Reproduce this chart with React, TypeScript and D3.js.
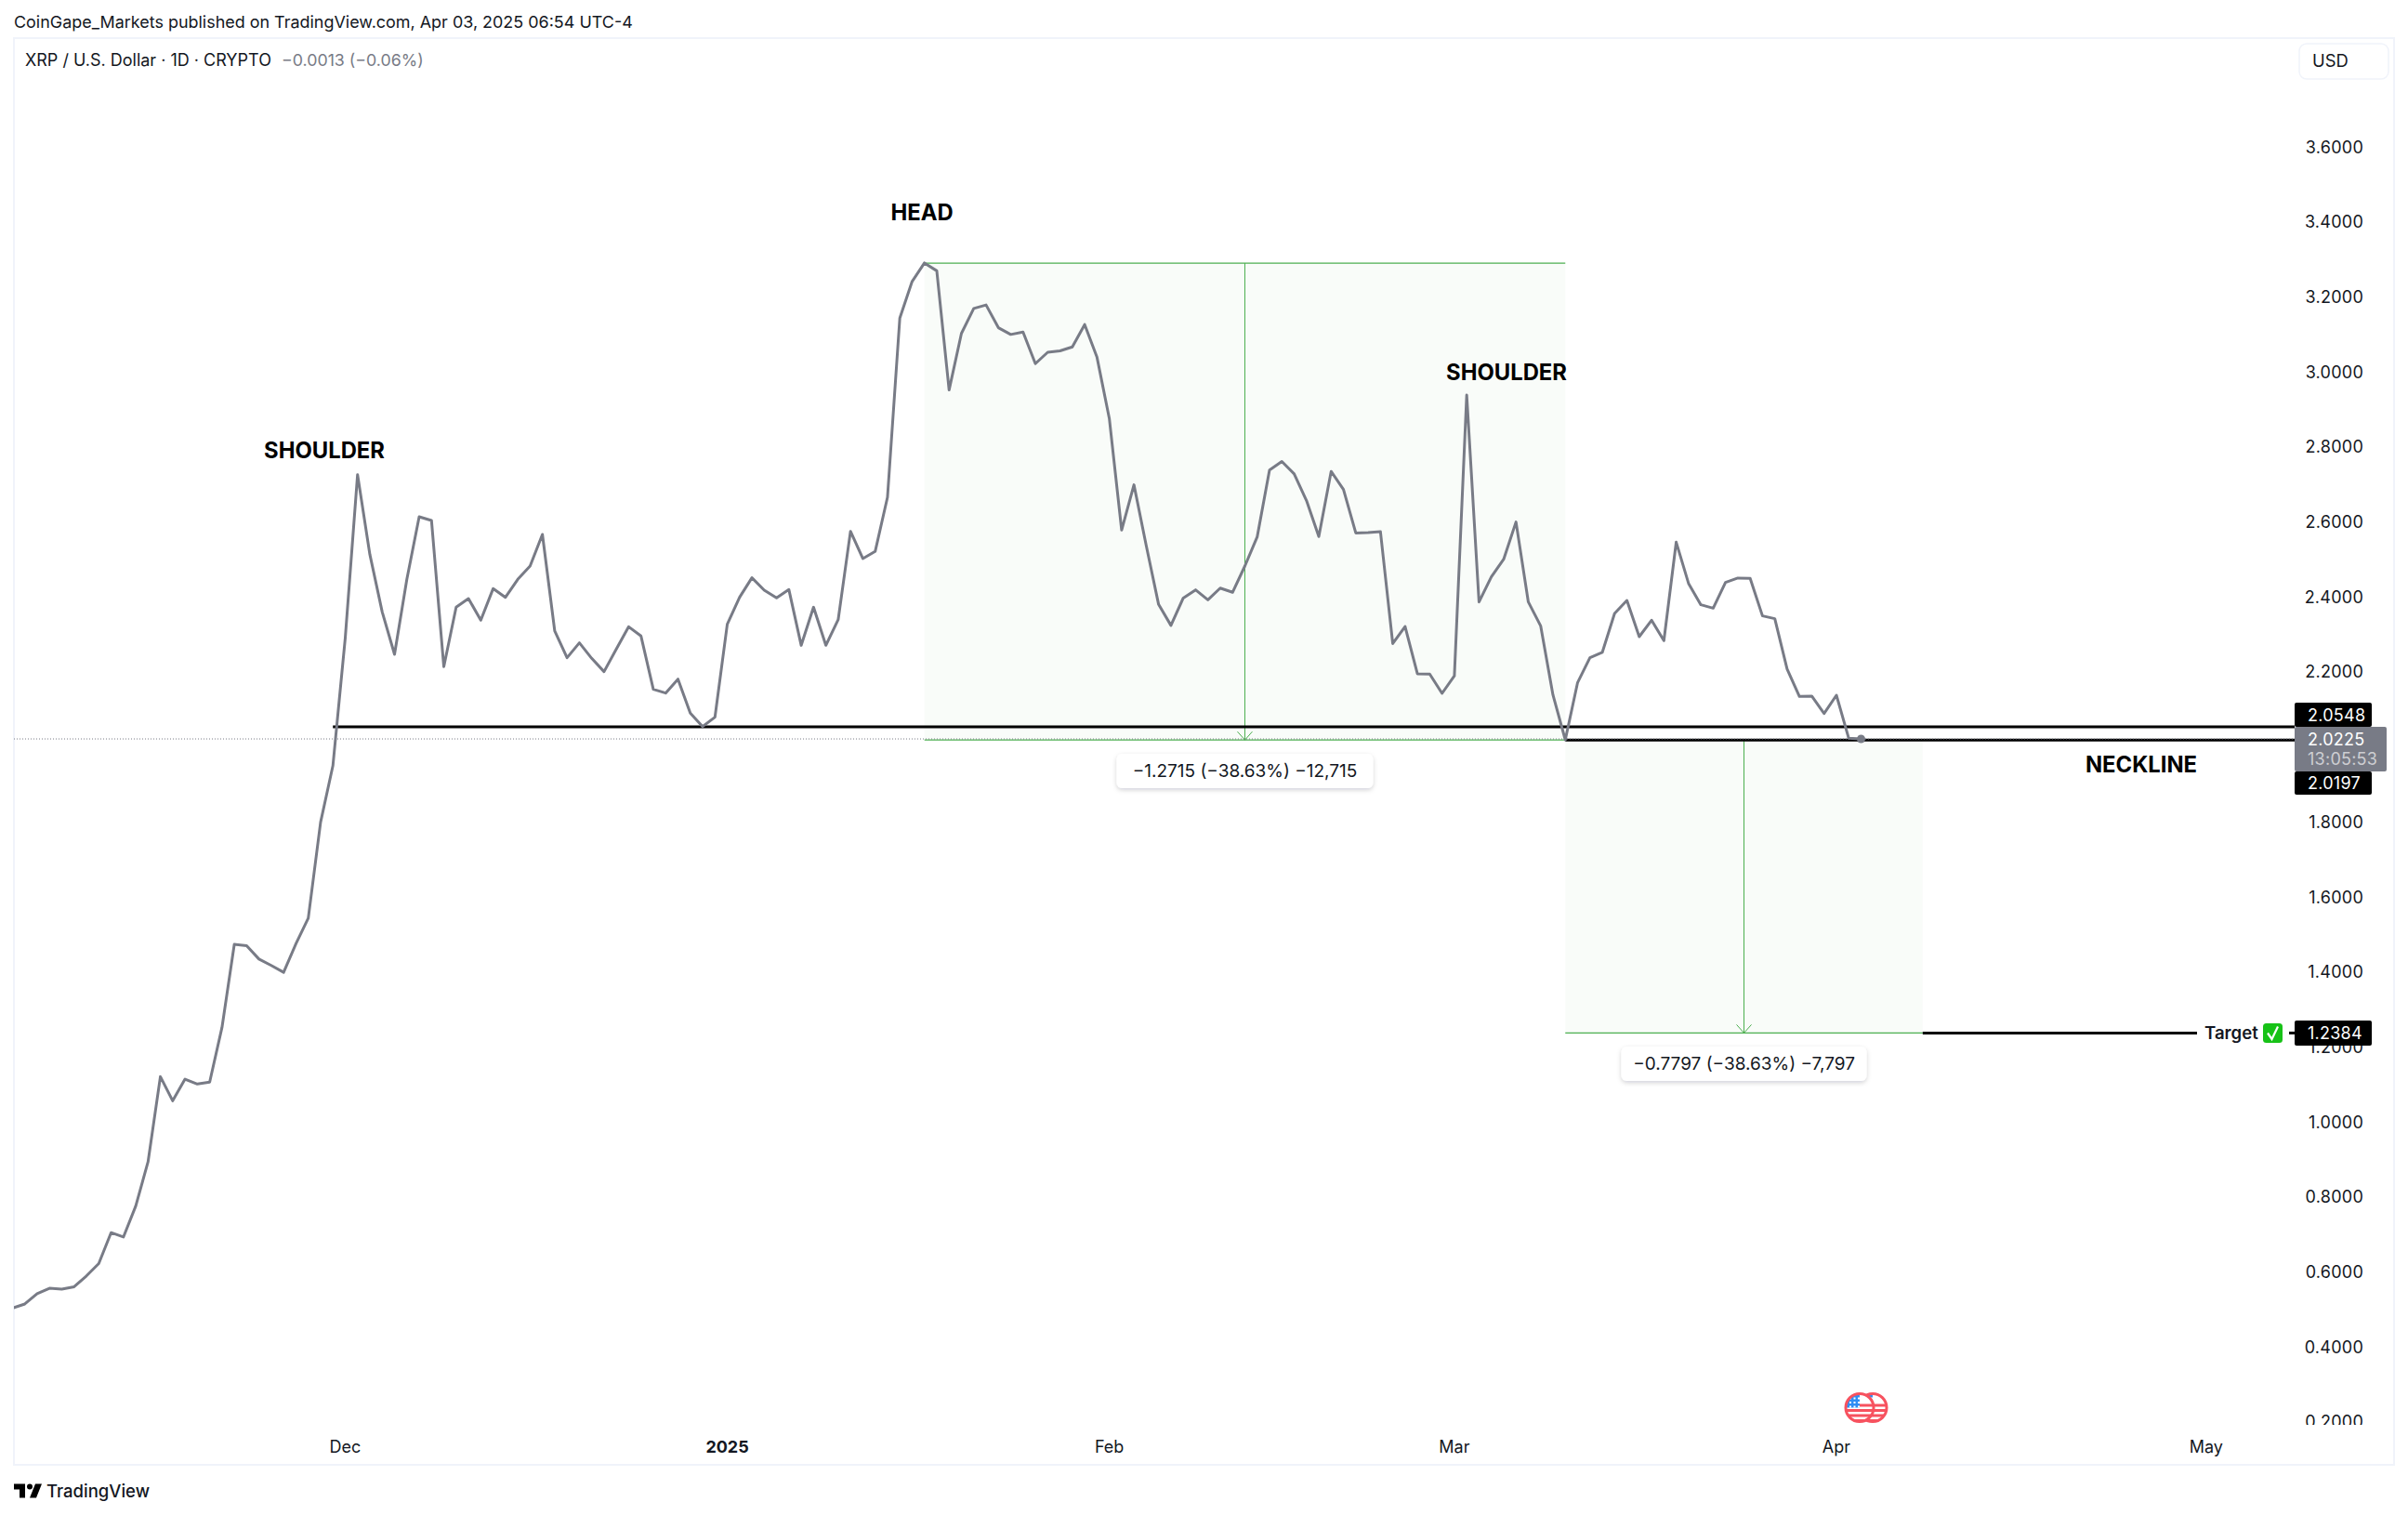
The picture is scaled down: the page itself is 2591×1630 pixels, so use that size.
import React from "react";
import * as d3 from "d3";

const W = 2591;
const H = 1630;
const FONT = "Inter, 'Noto Sans', sans-serif";
const INK = "#131722";
const GREY = "#787b86";
const GREEN = "#4caf50";
const BORDER = "#f0f3fa";

// Daily closes, Nov 4 2024 to Apr 3 2025
const firstDay = Date.UTC(2024, 10, 4);
const closes = [
  0.5047, 0.5158, 0.5434, 0.5578, 0.5552, 0.5618, 0.5906, 0.6234, 0.7061, 0.6943, 0.7769, 0.895,
  1.122, 1.0577, 1.1154, 1.1023, 1.1075, 1.2532, 1.4749, 1.471, 1.4355, 1.4185, 1.4001, 1.4762,
  1.5445, 1.8003, 1.9512, 2.2911, 2.7272, 2.5141, 2.3613, 2.2481, 2.448, 2.6149, 2.605, 2.2151,
  2.3737, 2.3968, 2.339, 2.4232, 2.4001, 2.448, 2.4835, 2.5678, 2.3101, 2.239, 2.2787, 2.2374,
  2.2019, 2.2622, 2.3216, 2.2969, 2.1548, 2.1449, 2.182, 2.0912, 2.0556, 2.0804, 2.3282, 2.4001,
  2.4522, 2.4191, 2.3985, 2.4208, 2.2721, 2.3737, 2.2721, 2.3406, 2.5761, 2.5034, 2.5224, 2.6669,
  3.1446, 3.2423, 3.2916, 3.2707, 2.953, 3.1038, 3.1702, 3.1797, 3.119, 3.101, 3.1076, 3.0232,
  3.0535, 3.0573, 3.0678, 3.1275, 3.0403, 2.8771, 2.5793, 2.7, 2.5376, 2.3811, 2.3252, 2.3982,
  2.42, 2.3935, 2.4247, 2.4134, 2.4835, 2.5613, 2.7396, 2.7624, 2.7292, 2.6581, 2.5623, 2.7358,
  2.6875, 2.5718, 2.5727, 2.5755, 2.2768, 2.3223, 2.1962, 2.1953, 2.144, 2.1905, 2.9396, 2.3877,
  2.4547, 2.5017, 2.6009, 2.3877, 2.3241, 2.1399, 2.0201, 2.173, 2.239, 2.2531, 2.3572, 2.3919,
  2.2952, 2.339, 2.2845, 2.5472, 2.4373, 2.3803, 2.3712, 2.4398, 2.4514, 2.4505, 2.3506, 2.3431,
  2.2085, 2.1358, 2.1366, 2.0903, 2.1391, 2.0243, 2.0225,
];

const priceTicks = [3.6, 3.4, 3.2, 3.0, 2.8, 2.6, 2.4, 2.2, 1.8, 1.6, 1.4, 1.2, 1.0, 0.8, 0.6, 0.4, 0.2];
const timeTicks = [
  { label: "Dec", date: Date.UTC(2024, 11, 1), bold: false },
  { label: "2025", date: Date.UTC(2025, 0, 1), bold: true },
  { label: "Feb", date: Date.UTC(2025, 1, 1), bold: false },
  { label: "Mar", date: Date.UTC(2025, 2, 1), bold: false },
  { label: "Apr", date: Date.UTC(2025, 3, 1), bold: false },
  { label: "May", date: Date.UTC(2025, 4, 1), bold: false },
];

const necklineUpper = 2.0548;
const necklineLower = 2.0197;
const lastPrice = 2.0225;
const targetPrice = 1.2384;
const headPrice = 3.2912;
const headDate = Date.UTC(2025, 0, 17);
const breakDate = Date.UTC(2025, 2, 10);
const targetEndDate = Date.UTC(2025, 3, 8);
const necklineStart = Date.UTC(2024, 10, 30);

const x = d3.scaleUtc().domain([Date.UTC(2024, 10, 5), Date.UTC(2025, 3, 3)]).range([26.7, 2002.5]);
const y = d3.scaleLinear().domain([3.6, 0.2]).range([158.5, 1530.4]);
const DAY = 86400000;
const series = closes.map((v, i) => ({ d: firstDay + i * DAY, v }));
const linePath = d3.line<{ d: number; v: number }>().x((p) => x(p.d)).y((p) => y(p.v))(series) as string;

const PANE = { l: 15, t: 41, r: 2576, b: 1576 };
const SCALE_X = 2469;

function Tag({ value, top, bottom }: { value: number; top: number; bottom: number }) {
  return (
    <g>
      <rect x={SCALE_X} y={top} width={83} height={bottom - top} rx={2} fill="#000" />
      <text x={2483} y={(top + bottom) / 2} fontSize={18} letterSpacing={0.25} fill="#fff" dominantBaseline="central">
        {value.toFixed(4)}
      </text>
    </g>
  );
}

function Measure({ x0, x1, hi, lo }: { x0: number; x1: number; hi: number; lo: number }) {
  const cx = (x0 + x1) / 2;
  return (
    <g>
      <rect x={x0} y={y(hi)} width={x1 - x0} height={y(lo) - y(hi)} fill="#4caf50" fillOpacity={0.035} />
      <line x1={x0} x2={x1} y1={y(hi)} y2={y(hi)} stroke={GREEN} strokeWidth={1.1} />
      <line x1={x0} x2={x1} y1={y(lo)} y2={y(lo)} stroke={GREEN} strokeWidth={1.1} />
      <line x1={cx} x2={cx} y1={y(hi)} y2={y(lo)} stroke={GREEN} strokeWidth={1} />
      <path
        d={`M${cx - 8},${y(lo) - 9}L${cx},${y(lo)}L${cx + 8},${y(lo) - 9}`}
        fill="none"
        stroke={GREEN}
        strokeWidth={1}
      />
    </g>
  );
}

function Tip({ cx, top, text }: { cx: number; top: number; text: string }) {
  const w = text.length > 24 ? 276 : 264;
  return (
    <g>
      <rect x={cx - w / 2} y={top} width={w} height={37} rx={6} fill="#fff" filter="url(#tipShadow)" />
      <text x={cx} y={top + 18} textAnchor="middle" dominantBaseline="central" fontSize={19} fill={INK}>
        {text}
      </text>
    </g>
  );
}

function FlagCoin({ cx, id }: { cx: number; id: string }) {
  const cy = 1514.5;
  const r = 15;
  return (
    <g>
      <clipPath id={id}>
        <circle cx={cx} cy={cy} r={r} />
      </clipPath>
      <circle cx={cx} cy={cy} r={r} fill="#fff" />
      <g clipPath={`url(#${id})`}>
        {[-4, 1.5, 7, 12.5].map((o) => (
          <rect key={o} x={cx - r} y={cy + o} width={2 * r} height={3} fill="#f7525f" />
        ))}
        <rect x={cx - r} y={cy - r} width={r} height={r} fill="#2f8ef4" />
        {[-11, -6.5, -2].map((dy) =>
          [-11, -6.5, -2].map((dx) => <rect key={`${dx}${dy}`} x={cx + dx} y={cy + dy} width={2} height={2} fill="#fff" />),
        )}
      </g>
      <circle cx={cx} cy={cy} r={r} fill="none" stroke="#f7525f" strokeWidth={3} />
    </g>
  );
}

export default function App() {
  const yNeckU = y(necklineUpper);
  const yNeckL = y(necklineLower);
  const yLast = y(lastPrice);
  const yTarget = y(targetPrice);
  const xHead = x(headDate);
  const xBreak = x(breakDate);
  const xEnd = x(targetEndDate);
  const lastX = x(series[series.length - 1].d);
  return (
    <svg
      width={W}
      height={H}
      viewBox={`0 0 ${W} ${H}`}
      style={{ position: "absolute", left: 0, top: 0, display: "block", background: "#fff" }}
      fontFamily={FONT}
    >
      <defs>
        <clipPath id="pane">
          <rect x={PANE.l} y={PANE.t} width={SCALE_X - PANE.l} height={PANE.b - PANE.t} />
        </clipPath>
        <clipPath id="axisClip">
          <rect x={SCALE_X} y={PANE.t} width={PANE.r - SCALE_X} height={1533 - PANE.t} />
        </clipPath>
        <filter id="tipShadow" x="-10%" y="-30%" width="120%" height="170%">
          <feDropShadow dx={0} dy={2} stdDeviation={2.5} floodColor="#131722" floodOpacity={0.18} />
        </filter>
      </defs>

      <text x={15} y={23.5} fontSize={17.95} fill={INK} dominantBaseline="central">
        CoinGape_Markets published on TradingView.com, Apr 03, 2025 06:54 UTC-4
      </text>

      <rect x={PANE.l} y={PANE.t} width={PANE.r - PANE.l} height={PANE.b - PANE.t} fill="none" stroke={BORDER} strokeWidth={2} />

      <text x={27} y={64.5} fontSize={18} fill={INK} dominantBaseline="central">
        XRP / U.S. Dollar · 1D · CRYPTO
      </text>
      <text x={303} y={64.5} fontSize={17.8} fill={GREY} dominantBaseline="central">
        −0.0013 (−0.06%)
      </text>

      <rect x={2474} y={47} width={96} height={38} rx={8} fill="#fff" stroke={BORDER} strokeWidth={1.5} />
      <text x={2488} y={65} fontSize={18.4} fill={INK} dominantBaseline="central">
        USD
      </text>

      <g clipPath="url(#axisClip)">
        {priceTicks.map((t) => (
          <text key={t} x={2543} y={y(t) - 0.5} textAnchor="end" fontSize={18} letterSpacing={0.25} fill={INK} dominantBaseline="central">
            {t.toFixed(4)}
          </text>
        ))}
      </g>

      {timeTicks.map((t) => (
        <text
          key={t.label}
          x={x(t.date)}
          y={1556}
          textAnchor="middle"
          fontSize={18}
          fontWeight={t.bold ? 700 : 400}
          fill={INK}
          dominantBaseline="central"
        >
          {t.label}
        </text>
      ))}

      <g clipPath="url(#pane)">
        <Measure x0={xHead} x1={xBreak} hi={headPrice} lo={necklineLower} />
        <Measure x0={xBreak} x1={xEnd} hi={necklineLower} lo={targetPrice} />

        <line x1={x(necklineStart)} x2={SCALE_X} y1={yNeckU} y2={yNeckU} stroke="#000" strokeWidth={3} />
        <line x1={xBreak} x2={SCALE_X} y1={yNeckL} y2={yNeckL} stroke="#000" strokeWidth={3} />
        <line x1={xEnd} x2={2364} y1={yTarget} y2={yTarget} stroke="#000" strokeWidth={3} />
        <line x1={2463} x2={SCALE_X} y1={yTarget} y2={yTarget} stroke="#000" strokeWidth={3} />
        <line x1={PANE.l} x2={SCALE_X} y1={yLast} y2={yLast} stroke={GREY} strokeWidth={1} strokeDasharray="1 2" />

        <path d={linePath} fill="none" stroke={GREY} strokeWidth={3} strokeLinejoin="round" />
        <circle cx={lastX} cy={y(closes[closes.length - 1])} r={4.5} fill={GREY} />
      </g>

      <Tip cx={(xHead + xBreak) / 2} top={811} text="−1.2715 (−38.63%) −12,715" />
      <Tip cx={(xBreak + xEnd) / 2} top={1126} text="−0.7797 (−38.63%) −7,797" />

      <g fontSize={23.8} fontWeight={700} fill="#000" textAnchor="middle" dominantBaseline="central">
        <text x={349} y={484}>SHOULDER</text>
        <text x={992} y={228}>HEAD</text>
        <text x={1621} y={400.5}>SHOULDER</text>
        <text x={2304} y={822}>NECKLINE</text>
      </g>

      <text x={2372} y={yTarget} fontSize={18.6} fontWeight={600} fill={INK} dominantBaseline="central">
        Target
      </text>
      <rect x={2435} y={1101} width={21} height={21} rx={3.5} fill="#17c217" />
      <path d="M2440,1111.5L2444.5,1118L2451,1104.5" fill="none" stroke="#fff" strokeWidth={2.2} />

      <Tag value={necklineUpper} top={756} bottom={782} />
      <Tag value={necklineLower} top={830} bottom={855} />
      <Tag value={targetPrice} top={1098} bottom={1125} />

      <rect x={SCALE_X} y={782} width={99} height={48} rx={2} fill={GREY} />
      <text x={2483} y={795.5} fontSize={18} letterSpacing={0.25} fill="#fff" dominantBaseline="central">
        {lastPrice.toFixed(4)}
      </text>
      <text x={2483} y={816.5} fontSize={18} letterSpacing={0.25} fill="#fff" fillOpacity={0.65} dominantBaseline="central">
        13:05:53
      </text>

      <FlagCoin cx={2015} id="coinB" />
      <FlagCoin cx={2001} id="coinA" />

      <g transform="translate(13,1590.5)">
        <path d="M14 6H2v6h6v9h6V6zm12 15h-7l6-15h7l-6 15zm-7-9a3 3 0 1 0 0-6 3 3 0 0 0 0 6z" fill="#000" />
      </g>
      <text x={50} y={1604} fontSize={18.5} fontWeight={500} fill={INK} dominantBaseline="central">
        TradingView
      </text>
    </svg>
  );
}
